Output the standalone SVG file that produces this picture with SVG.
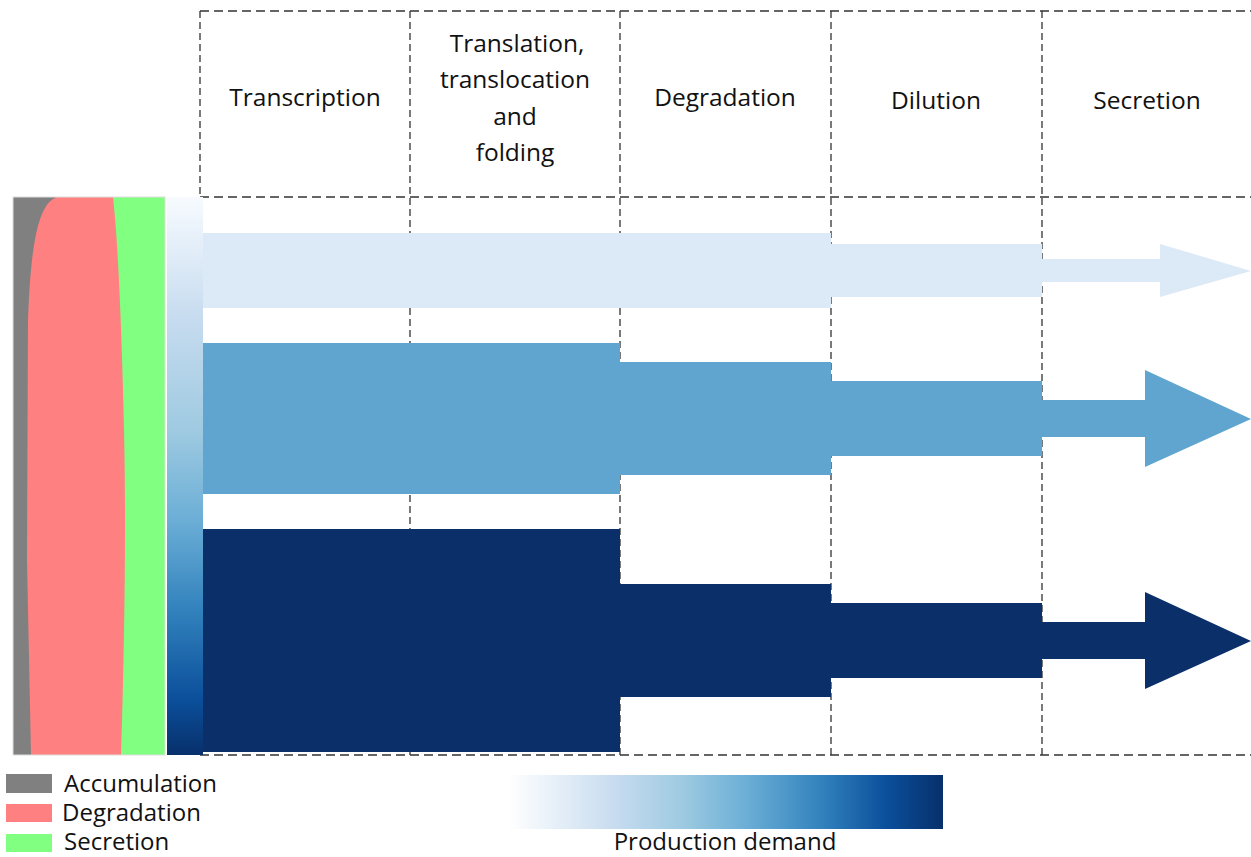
<svg xmlns="http://www.w3.org/2000/svg" width="1251" height="857" viewBox="0 0 1251 857">
<defs>
<linearGradient id="gv" x1="0" y1="0" x2="0" y2="1">
<stop offset="0" stop-color="#f7fbff"/>
<stop offset="0.22" stop-color="#c6dbef"/>
<stop offset="0.42" stop-color="#9ecae1"/>
<stop offset="0.58" stop-color="#6baed6"/>
<stop offset="0.74" stop-color="#3282bd"/>
<stop offset="0.9" stop-color="#0b4f9b"/>
<stop offset="1" stop-color="#08306b"/>
</linearGradient>
<linearGradient id="gh" x1="0" y1="0" x2="1" y2="0">
<stop offset="0" stop-color="#ffffff"/>
<stop offset="0.25" stop-color="#c6dbef"/>
<stop offset="0.4" stop-color="#9ecae1"/>
<stop offset="0.55" stop-color="#6baed6"/>
<stop offset="0.72" stop-color="#3282bd"/>
<stop offset="0.87" stop-color="#0b4f9b"/>
<stop offset="1" stop-color="#08306b"/>
</linearGradient>
<style>
.lbl{font-family:"Open Sans","Liberation Sans",sans-serif;font-size:24.5px;fill:#111;text-anchor:middle}
.leg{font-family:"Open Sans","Liberation Sans",sans-serif;font-size:24px;fill:#111}
.dh{stroke:#333;stroke-width:1.3;stroke-dasharray:9,5;fill:none}
.dv{stroke:#333;stroke-width:1.3;stroke-dasharray:7,4;fill:none}
.light{fill:#dce9f6}
.mid{fill:#5fa5cf}
.dark{fill:#0a2f69}
</style>
</defs>
<rect width="1251" height="857" fill="#ffffff"/>

<g id="connectors">
<line class="dh" x1="200" y1="11" x2="1251" y2="11"/>
<line class="dh" x1="200" y1="197" x2="1251" y2="197"/>
<line class="dh" x1="200" y1="755" x2="1251" y2="755"/>
<line class="dv" x1="200" y1="11" x2="200" y2="755"/>
<line class="dv" x1="410" y1="11" x2="410" y2="755"/>
<line class="dv" x1="620" y1="11" x2="620" y2="755"/>
<line class="dv" x1="831" y1="11" x2="831" y2="755"/>
<line class="dv" x1="1042" y1="11" x2="1042" y2="755"/>
</g>

<g id="stacked-bar">
<rect x="13" y="197" width="50" height="558" fill="#808080"/>
<rect x="100" y="197" width="65" height="558" fill="#80ff80"/>
<path d="M57,197 C40,203 31,235 28,320 L27,560 L31,755 L121,755 Q127,560 124,430 Q120,260 113,197 Z" fill="#ff8080"/>
<rect x="13" y="197" width="152" height="558" fill="none" stroke="#dddddd" stroke-width="1"/>
</g>

<g id="demand-bar">
<rect x="167" y="197" width="36" height="558" fill="url(#gv)"/>
</g>

<g id="flows">
<g id="flow-low">
<rect class="light" x="203" y="233" width="628" height="75"/>
<rect class="light" x="831" y="244" width="211" height="53"/>
<polygon class="light" points="1042,259 1160,259 1160,244 1251,271 1160,297 1160,282 1042,282"/>
</g>
<g id="flow-mid">
<rect class="mid" x="203" y="343" width="417" height="151"/>
<rect class="mid" x="620" y="362" width="211" height="113"/>
<rect class="mid" x="831" y="381" width="211" height="75"/>
<polygon class="mid" points="1042,400 1145,400 1145,370 1251,419 1145,467 1145,437 1042,437"/>
</g>
<g id="flow-high">
<rect class="dark" x="203" y="529" width="417" height="223"/>
<rect class="dark" x="620" y="584" width="211" height="113"/>
<rect class="dark" x="831" y="603" width="211" height="75"/>
<polygon class="dark" points="1042,622 1145,622 1145,592 1251,641 1145,689 1145,659 1042,659"/>
</g>
</g>

<g id="header-transcription"><text class="lbl" x="305" y="106">Transcription</text></g>
<g id="header-translation">
<text class="lbl" x="517" y="52">Translation,</text>
<text class="lbl" x="515" y="88">translocation</text>
<text class="lbl" x="515" y="125">and</text>
<text class="lbl" x="515" y="161">folding</text>
</g>
<g id="header-degradation"><text class="lbl" x="725" y="106">Degradation</text></g>
<g id="header-dilution"><text class="lbl" x="936" y="109">Dilution</text></g>
<g id="header-secretion"><text class="lbl" x="1147" y="109">Secretion</text></g>

<g id="legend-accumulation">
<rect x="6" y="774" width="46" height="19" fill="#808080"/>
<text class="leg" x="64" y="792">Accumulation</text>
</g>
<g id="legend-degradation">
<rect x="6" y="804" width="46" height="18" fill="#ff8080"/>
<text class="leg" x="62" y="821">Degradation</text>
</g>
<g id="legend-secretion">
<rect x="6" y="834" width="46" height="18" fill="#80ff80"/>
<text class="leg" x="64" y="850">Secretion</text>
</g>

<g id="legend-demand">
<rect x="508" y="775" width="435" height="54" fill="url(#gh)"/>
<text class="leg" x="725" y="850" text-anchor="middle">Production demand</text>
</g>
</svg>
